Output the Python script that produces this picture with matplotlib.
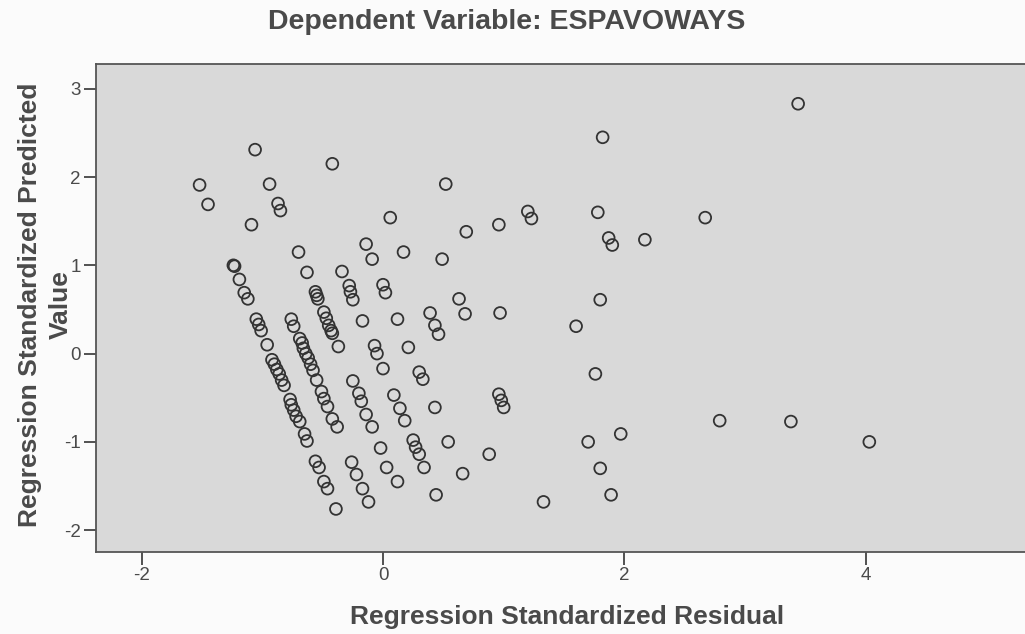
import numpy as np
import matplotlib.pyplot as plt

plt.rcParams['font.family'] = ['Liberation Sans', 'DejaVu Sans']
plt.rcParams['axes.unicode_minus'] = False

# --- Data (standardized residual vs standardized predicted) ---
resid = [
    -1.06, -0.42, -1.52, -0.94, -1.45, -0.87, -0.85, -1.09, 0.06, -0.14,
    0.17, -0.09, -0.70, -1.24, -1.23, -0.63, -0.34, -1.19, -1.15, -1.12,
    -0.56, -0.55, -0.54, -0.28, -0.27, -0.25, 0.00, 0.02, 1.82, 0.52,
    1.20, 1.23, 1.78, 2.67, 0.96, 0.69, 1.87, 1.90, 2.17, 0.49,
    0.63, 1.80, 0.39, 0.68, 0.97, 1.60, 0.43, 0.46, 0.21, 1.76,
    0.30, 0.33, 0.96, 0.98, 1.00, 0.43, 2.79, 1.97, 1.70, 0.54,
    0.25, 0.27, 0.30, 0.88, 0.34, 0.66, 1.80, 0.12, 0.44, 1.33,
    1.89, 3.44, 3.38, 4.03,
    # first diagonal band
    -1.05, -1.03, -1.01, -0.96, -0.92, -0.90, -0.88, -0.86, -0.84, -0.82,
    -0.77, -0.76, -0.74, -0.72, -0.69, -0.65, -0.63, -0.56, -0.53, -0.49,
    -0.46, -0.39,
    # second diagonal band
    -0.76, -0.74, -0.69, -0.67, -0.66, -0.64, -0.62, -0.60, -0.58, -0.55,
    -0.51, -0.49, -0.46, -0.42, -0.38,
    # third band and around zero
    -0.49, -0.47, -0.45, -0.43, -0.42, -0.37, -0.17, 0.12, -0.07, -0.05,
    0.00, -0.25, -0.20, -0.18, -0.14, -0.09, 0.09, 0.14, 0.18, -0.02,
    -0.26, -0.22, -0.17, -0.12, 0.03,
]
pred = [
    2.31, 2.15, 1.91, 1.92, 1.69, 1.70, 1.62, 1.46, 1.54, 1.24,
    1.15, 1.07, 1.15, 1.00, 0.99, 0.92, 0.93, 0.84, 0.69, 0.62,
    0.70, 0.66, 0.62, 0.77, 0.70, 0.61, 0.78, 0.69, 2.45, 1.92,
    1.61, 1.53, 1.60, 1.54, 1.46, 1.38, 1.31, 1.23, 1.29, 1.07,
    0.62, 0.61, 0.46, 0.45, 0.46, 0.31, 0.32, 0.22, 0.07, -0.23,
    -0.21, -0.29, -0.46, -0.53, -0.61, -0.61, -0.76, -0.91, -1.00, -1.00,
    -0.98, -1.06, -1.14, -1.14, -1.29, -1.36, -1.30, -1.45, -1.60, -1.68,
    -1.60, 2.83, -0.77, -1.00,
    0.39, 0.33, 0.26, 0.10, -0.07, -0.12, -0.18, -0.23, -0.30, -0.36,
    -0.52, -0.58, -0.64, -0.71, -0.77, -0.91, -0.99, -1.22, -1.29, -1.45,
    -1.53, -1.76,
    0.39, 0.31, 0.17, 0.12, 0.06, 0.00, -0.05, -0.12, -0.19, -0.30,
    -0.43, -0.51, -0.60, -0.74, -0.83,
    0.47, 0.40, 0.32, 0.26, 0.23, 0.08, 0.37, 0.39, 0.09, 0.00,
    -0.17, -0.31, -0.45, -0.54, -0.69, -0.83, -0.47, -0.62, -0.76, -1.07,
    -1.23, -1.37, -1.53, -1.68, -1.29,
]

x_ticks = [-2, 0, 2, 4]
y_ticks = [-2, -1, 0, 1, 2, 3]

text_col = '#4a4a4a'
edge_col = '#333333'

fig = plt.figure(figsize=(10.25, 6.34), dpi=100, facecolor='#fbfbfb')
ax = fig.add_axes([0.0937, 0.129, 0.9063, 0.770])
ax.set_facecolor('#d9d9d9')

ax.scatter(resid, pred, s=72, facecolors='none', edgecolors=edge_col, linewidths=1.3, zorder=3)

ax.set_xlim(-2.378, 5.32)
ax.set_ylim(-2.25, 3.28)
ax.set_xticks(x_ticks)
ax.set_yticks(y_ticks)
ax.tick_params(direction='out', length=9, width=1.3, color='#444444',
               labelsize=13.5, labelcolor=text_col, pad=2)
for side in ['left', 'bottom', 'top']:
    ax.spines[side].set_color('#555555')
    ax.spines[side].set_linewidth(1.3)
ax.spines['right'].set_visible(False)

fig.text(0.494, 0.965, 'Dependent Variable: ESPAVOWAYS', ha='center', va='center',
         fontsize=20.5, fontweight='bold', color=text_col)
fig.text(0.553, 0.027, 'Regression Standardized Residual', ha='center', va='center',
         fontsize=19, fontweight='bold', color=text_col)
# y label: two lines, drawn separately so they sit like the reference
fig.text(30 / 1025, 0.519, 'Regression Standardized Predicted', ha='center', va='center',
         rotation=90, fontsize=19, fontweight='bold', color=text_col)
fig.text(60.5 / 1025, 0.519, 'Value', ha='center', va='center',
         rotation=90, fontsize=19, fontweight='bold', color=text_col)

plt.savefig('out.png', dpi=100, facecolor=fig.get_facecolor())
